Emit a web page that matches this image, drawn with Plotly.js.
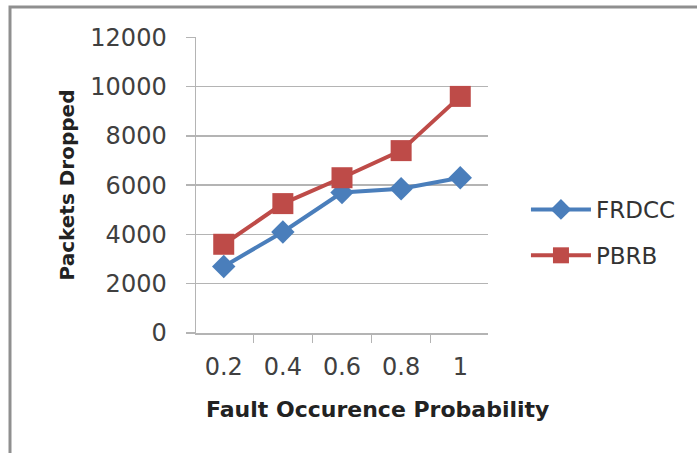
<!DOCTYPE html>
<html>
<head>
<meta charset="utf-8">
<script src="https://cdn.plot.ly/plotly-3.0.1.min.js"></script>
<style>
  html, body { margin: 0; padding: 0; background: #fff; }
  #chart { width: 697px; height: 453px; }
</style>
</head>
<body>
<div id="chart"></div>
<script>
// Packets dropped vs. fault occurrence probability
const probabilities = ['0.2', '0.4', '0.6', '0.8', '1'];
const frdccDropped = [2700, 4100, 5700, 5850, 6300];
const pbrbDropped = [3600, 5250, 6300, 7400, 9600];
const yTicks = [0, 2000, 4000, 6000, 8000, 10000, 12000];
const yTickLabels = ['0', '2000', '4000', '6000', '8000', '10000', '12000'];

const gridGray = '#b4b4b4';
const tickFont = { family: 'DejaVu Sans, sans-serif', size: 24, color: '#404040' };

const traces = [
  {
    x: probabilities, y: frdccDropped, name: 'FRDCC', legendgroup: 'frdcc',
    type: 'scatter', mode: 'lines+markers',
    line: { color: '#4a7ebb', width: 4 },
    marker: { symbol: 'diamond', size: 18, color: '#4a7ebb' }
  },
  {
    x: probabilities, y: pbrbDropped, name: 'PBRB', legendgroup: 'pbrb',
    type: 'scatter', mode: 'lines+markers',
    line: { color: '#be4b48', width: 4 },
    marker: { symbol: 'square', size: 21, color: '#be4b48' }
  }
];

const layout = {
  width: 697, height: 453,
  margin: { l: 196, r: 209, t: 37, b: 120 },
  paper_bgcolor: '#fff', plot_bgcolor: '#fff',
  showlegend: true,
  legend: {
    x: 1.13, y: 0.49, xanchor: 'left', yanchor: 'top',
    font: { family: 'DejaVu Sans, sans-serif', size: 23, color: '#333' },
    traceorder: 'grouped', tracegroupgap: 13, itemwidth: 60,
    bgcolor: 'rgba(0,0,0,0)'
  },
  xaxis: {
    type: 'category',
    tickson: 'boundaries',
    ticks: 'outside', ticklen: 8, tickcolor: gridGray, tickwidth: 1.5,
    showline: true, linecolor: gridGray, linewidth: 1.5,
    showgrid: false, zeroline: false,
    tickfont: tickFont,
    ticklabelstandoff: 12
  },
  yaxis: {
    range: [0, 12010],
    tickvals: yTicks,
    ticktext: yTickLabels,
    ticks: 'outside', ticklen: 9, tickcolor: gridGray, tickwidth: 1.5,
    showline: true, linecolor: gridGray, linewidth: 1.5,
    showgrid: true, gridcolor: gridGray, gridwidth: 1.5,
    zeroline: false,
    tickfont: tickFont,
    ticklabelstandoff: 14,
    title: {
      text: 'Packets Dropped',
      font: { family: 'DejaVu Sans, sans-serif', size: 20, color: '#222', weight: 'bold' },
      standoff: 10
    }
  },
  annotations: [
    {
      text: 'Fault Occurence Probability',
      xref: 'paper', yref: 'paper', x: 0.62, y: -0.26,
      xanchor: 'center', yanchor: 'middle', showarrow: false,
      font: { family: 'DejaVu Sans, sans-serif', size: 22, color: '#222', weight: 'bold' }
    }
  ],
  shapes: [
    {
      type: 'rect', xref: 'paper', yref: 'paper',
      x0: (10 - 196) / 292, x1: 2, y0: -2, y1: (333 - 7) / 296,
      line: { color: '#8f8f8f', width: 3 }, fillcolor: 'rgba(0,0,0,0)', layer: 'below'
    }
  ]
};

Plotly.newPlot('chart', traces, layout, { displayModeBar: false, staticPlot: true });
</script>
</body>
</html>
